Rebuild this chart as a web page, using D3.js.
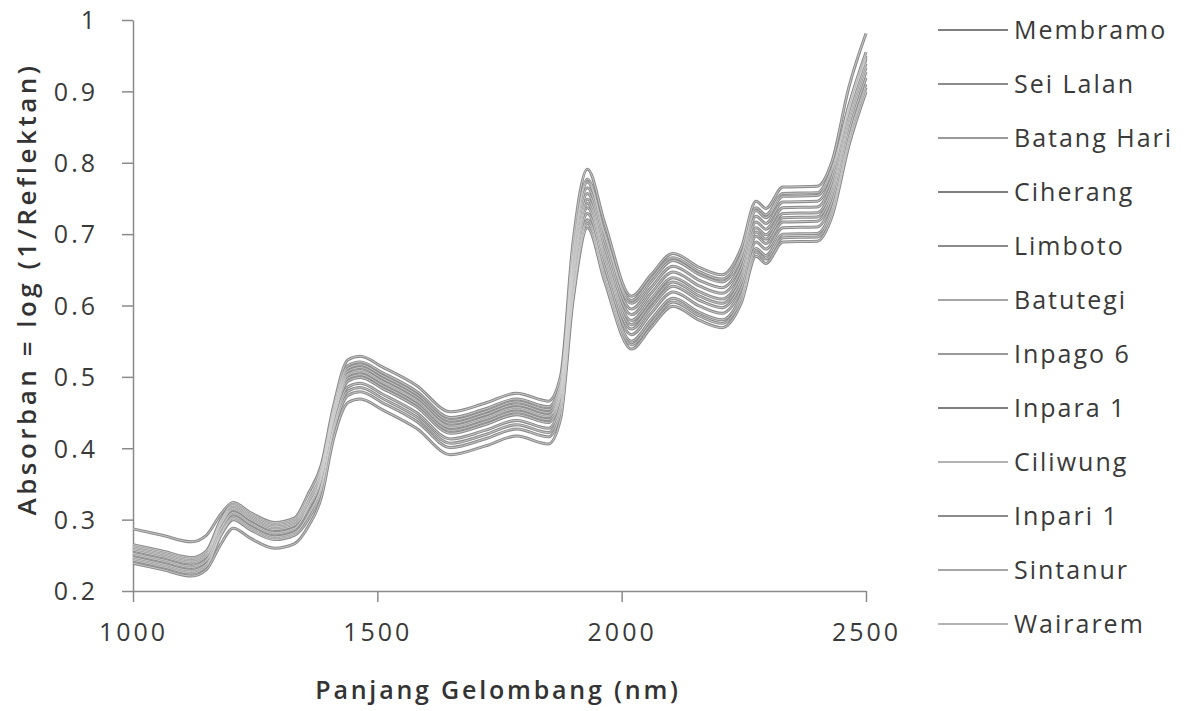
<!DOCTYPE html>
<html lang="en">
<head>
    <meta charset="UTF-8">
    <title>Spektrum Absorban NIR</title>
    <script src="https://d3js.org/d3.v7.min.js"></script>
    <style>
        body {
            background-color: #fff;
            margin: 0;
        }
        svg {
            display: block;
            font-family: "Open Sans", sans-serif;
        }
    </style>
</head>
<body>

    <svg width="1189" height="711"></svg>

    <script>
        // Wavelengths (nm)
        var wavelengths = [1000, 1060, 1120, 1150, 1180, 1205, 1240, 1290, 1330, 1360, 1385, 1410, 1440, 1465,
                           1510, 1580, 1650, 1720, 1785, 1850, 1875, 1900, 1930, 1965, 2020, 2060, 2105, 2160,
                           2205, 2245, 2275, 2295, 2330, 2400, 2430, 2465, 2500];

        var membramo   = [.251, .242, .233, .242, .286, .308, .294, .280, .286, .320, .358, .440, .502, .507, .492, .466, .429, .441, .455, .444, .479, .652, .757, .682, .587, .617, .647, .627, .617, .652, .717, .707, .737, .738, .772, .872, .947];
        var seiLalan   = [.261, .252, .243, .252, .296, .318, .304, .290, .296, .328, .366, .448, .508, .513, .498, .472, .435, .447, .461, .450, .485, .660, .765, .690, .595, .625, .655, .635, .625, .660, .725, .715, .745, .746, .780, .880, .955];
        var batangHari = [.245, .236, .227, .236, .280, .302, .288, .274, .280, .309, .347, .429, .486, .491, .476, .450, .413, .425, .439, .428, .463, .624, .729, .654, .559, .589, .619, .599, .589, .624, .689, .679, .709, .710, .744, .844, .919];
        var ciherang   = [.257, .248, .239, .248, .292, .314, .300, .286, .292, .321, .359, .441, .498, .503, .488, .462, .425, .437, .451, .440, .475, .638, .743, .668, .573, .603, .633, .613, .603, .638, .703, .693, .723, .724, .758, .858, .933];
        var limboto    = [.287, .278, .269, .278, .308, .324, .310, .296, .302, .338, .376, .458, .524, .529, .514, .488, .451, .463, .477, .466, .501, .686, .791, .716, .613, .643, .673, .653, .643, .681, .746, .736, .766, .767, .801, .906, .981];
        var batutegi   = [.247, .238, .229, .238, .282, .304, .290, .276, .282, .307, .345, .427, .480, .485, .470, .444, .407, .419, .433, .422, .457, .615, .720, .645, .550, .580, .610, .590, .580, .615, .680, .670, .700, .701, .735, .835, .910];
        var inpago6    = [.265, .256, .247, .256, .300, .322, .308, .294, .300, .332, .370, .452, .512, .517, .502, .476, .439, .451, .465, .454, .489, .672, .777, .702, .607, .637, .667, .647, .637, .672, .737, .727, .757, .758, .792, .880, .950];
        var inpara1    = [.253, .244, .235, .244, .288, .310, .296, .282, .288, .317, .355, .437, .494, .499, .484, .458, .421, .433, .447, .436, .471, .632, .737, .662, .567, .597, .627, .607, .597, .632, .697, .687, .717, .718, .752, .852, .927];
        var ciliwung   = [.239, .230, .221, .230, .266, .288, .274, .260, .266, .292, .330, .412, .464, .469, .454, .428, .391, .403, .417, .406, .441, .604, .709, .634, .539, .569, .599, .579, .569, .604, .669, .659, .689, .690, .724, .824, .899];
        var inpari1    = [.259, .250, .241, .250, .294, .316, .302, .288, .294, .325, .363, .445, .504, .509, .494, .468, .431, .443, .457, .446, .481, .644, .749, .674, .579, .609, .639, .619, .609, .644, .709, .699, .729, .730, .764, .864, .939];
        var sintanur   = [.243, .234, .225, .234, .278, .300, .286, .272, .278, .302, .340, .422, .474, .479, .464, .438, .401, .413, .427, .416, .451, .610, .715, .640, .545, .575, .605, .585, .575, .610, .675, .665, .695, .696, .730, .830, .905];
        var wairarem   = [.263, .254, .245, .254, .298, .320, .306, .292, .298, .333, .371, .453, .516, .521, .506, .480, .443, .455, .469, .458, .493, .668, .773, .698, .603, .633, .663, .643, .633, .668, .733, .723, .753, .754, .788, .875, .945];

        var names = ["Membramo", "Sei Lalan", "Batang Hari", "Ciherang", "Limboto", "Batutegi",
                     "Inpago 6", "Inpara 1", "Ciliwung", "Inpari 1", "Sintanur", "Wairarem"];
        var values = [membramo, seiLalan, batangHari, ciherang, limboto, batutegi,
                      inpago6, inpara1, ciliwung, inpari1, sintanur, wairarem];
        var legendColors = ["#555", "#666", "#777", "#555", "#666", "#888",
                            "#777", "#555", "#999", "#666", "#888", "#999"];

        var xTicks = [1000, 1500, 2000, 2500];
        var yTicks = [0.2, 0.3, 0.4, 0.5, 0.6, 0.7, 0.8, 0.9, 1];

        var svg = d3.select("svg");

        var x = d3.scaleLinear().domain([1000, 2500]).range([133, 866]);
        var y = d3.scaleLinear().domain([0.2, 1]).range([591, 20]);

        // Axes
        var xAxis = svg.append("g")
            .attr("transform", "translate(0,591)")
            .call(d3.axisBottom(x).tickValues(xTicks).tickSize(11).tickSizeOuter(0).tickPadding(21)
                  .tickFormat(d3.format("d")));
        var yAxis = svg.append("g")
            .attr("transform", "translate(133,0)")
            .call(d3.axisLeft(y).tickValues(yTicks).tickSize(11).tickSizeOuter(0).tickPadding(24)
                  .tickFormat(function(d) { return d === 1 ? "1" : d3.format(".1f")(d); }));

        [xAxis, yAxis].forEach(function(a) {
            a.select(".domain").attr("stroke", "#8a8a8a").attr("stroke-width", 1.5);
            a.selectAll(".tick line").attr("stroke", "#8a8a8a").attr("stroke-width", 1.5);
            a.selectAll(".tick text")
                .attr("fill", "#3a3a3a")
                .style("font-size", "25px")
                .style("letter-spacing", "3px")
                .style("font-family", "'Open Sans', sans-serif");
        });
        yAxis.selectAll(".tick text").attr("dy", "0.35em");

        // Lines
        var line = d3.line()
            .x(function(d, i) { return x(wavelengths[i]); })
            .y(function(d) { return y(d); })
            .curve(d3.curveMonotoneX);

        var lines = svg.append("g");
        values.forEach(function(v) {
            lines.append("path")
                .attr("d", line(v))
                .attr("fill", "none")
                .attr("stroke", "#8c8c8c")
                .attr("stroke-width", 3);
        });
        values.forEach(function(v) {
            lines.append("path")
                .attr("d", line(v))
                .attr("fill", "none")
                .attr("stroke", "#d4d4d4")
                .attr("stroke-width", 0.8);
        });

        // Axis titles
        svg.append("text")
            .attr("x", 498)
            .attr("y", 699)
            .attr("text-anchor", "middle")
            .attr("fill", "#333")
            .style("font-size", "25px")
            .style("font-weight", "600")
            .style("letter-spacing", "2.8px")
            .text("Panjang Gelombang (nm)");

        svg.append("text")
            .attr("transform", "translate(36,289) rotate(-90)")
            .attr("text-anchor", "middle")
            .attr("fill", "#333")
            .style("font-size", "26px")
            .style("font-weight", "600")
            .style("letter-spacing", "3.5px")
            .text("Absorban = log (1/Reflektan)");

        // Legend
        var legend = svg.append("g").selectAll("g")
            .data(names)
            .enter()
            .append("g")
            .attr("transform", function(d, i) { return "translate(0," + (30 + i * 54) + ")"; });

        legend.append("line")
            .attr("x1", 938).attr("x2", 1008)
            .attr("stroke", function(d, i) { return legendColors[i]; })
            .attr("stroke-width", 1.5);

        legend.append("text")
            .attr("x", 1014)
            .attr("dy", "0.35em")
            .attr("fill", "#3a3a3a")
            .style("font-size", "25px")
            .style("letter-spacing", "2px")
            .text(function(d) { return d; });
    </script>

</body>
</html>
